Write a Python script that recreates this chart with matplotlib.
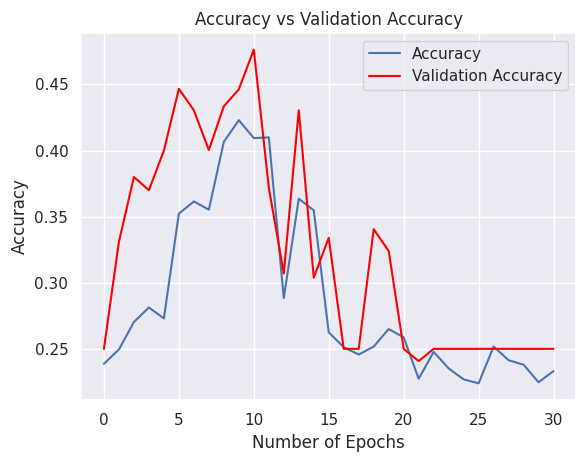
import matplotlib
matplotlib.use("Agg")
import matplotlib.pyplot as plt
import seaborn as sns

epochs = list(range(31))
accuracy = [0.2387, 0.2495, 0.2703, 0.2813, 0.2730, 0.3523, 0.3615, 0.3553,
            0.4066, 0.4230, 0.4094, 0.4100, 0.2884, 0.3636, 0.3548, 0.2625,
            0.2512, 0.2457, 0.2517, 0.2650, 0.2587, 0.2274, 0.2477, 0.2352,
            0.2269, 0.2239, 0.2517, 0.2414, 0.2380, 0.2247, 0.2332]
val_accuracy = [0.25, 0.331, 0.380, 0.370, 0.400, 0.4467, 0.4305, 0.4004,
                0.4335, 0.4463, 0.4764, 0.372, 0.307, 0.4305, 0.3039, 0.334,
                0.25, 0.25, 0.3405, 0.324, 0.25, 0.2407, 0.25, 0.25,
                0.25, 0.25, 0.25, 0.25, 0.25, 0.25, 0.25]

sns.set_theme()

fig = plt.figure(figsize=(5.86, 4.63), dpi=100)
fig.subplots_adjust(left=0.139, right=0.983, bottom=0.136, top=0.929)
ax = fig.add_subplot(111)

ax.plot(epochs, accuracy, label="Accuracy")
ax.plot(epochs, val_accuracy, color="red", label="Validation Accuracy")
ax.set_title("Accuracy vs Validation Accuracy")
ax.set_xlabel("Number of Epochs")
ax.set_ylabel("Accuracy")
ax.legend()

fig.savefig("out.png", dpi=100)
